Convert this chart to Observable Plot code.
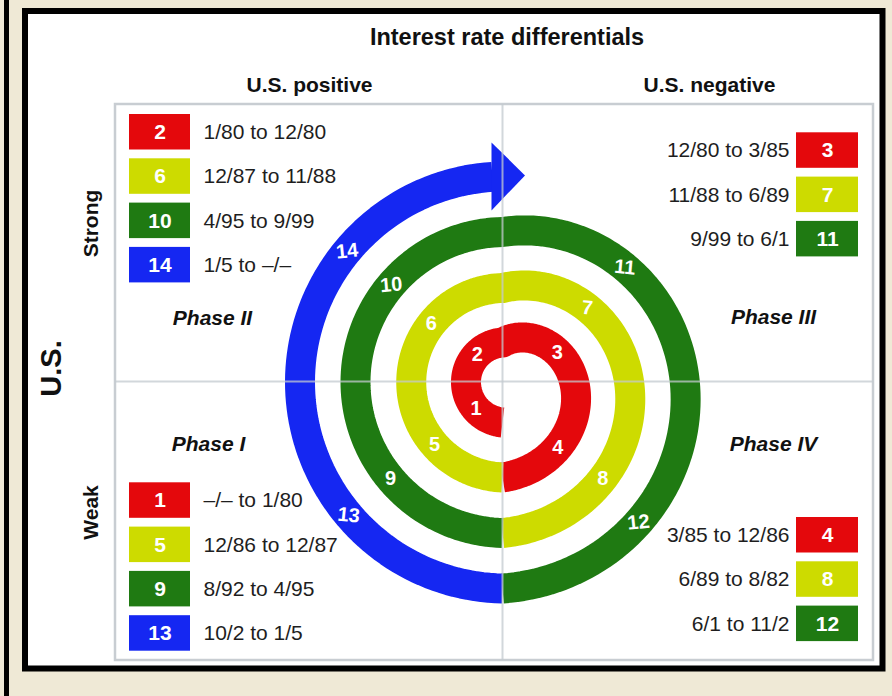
<!DOCTYPE html>
<html><head><meta charset="utf-8">
<script src="https://cdn.jsdelivr.net/npm/d3@7"></script>
<script src="https://cdn.jsdelivr.net/npm/@observablehq/plot@0.6"></script>
<style>
html,body{margin:0;padding:0;background:#efe9d6;overflow:hidden;}
#chart svg{display:block;}
</style></head><body><div id="chart"></div>
<script>
// ---------------- data ----------------
const title = "Interest rate differentials";
const columnLabels = ["U.S. positive", "U.S. negative"];
const rowLabels = ["Strong", "Weak"];
const rowTitle = "U.S.";
const phaseNames = ["Phase I", "Phase II", "Phase III", "Phase IV"];
const segments = [1, 2, 3, 4, 5, 6, 7, 8, 9, 10, 11, 12, 13, 14];
const periods = [
  "–/– to 1/80", "1/80 to 12/80", "12/80 to 3/85", "3/85 to 12/86",
  "12/86 to 12/87", "12/87 to 11/88", "11/88 to 6/89", "6/89 to 8/82",
  "8/92 to 4/95", "4/95 to 9/99", "9/99 to 6/1", "6/1 to 11/2",
  "10/2 to 1/5", "1/5 to –/–"
];
const cycleColors = ["#e4080c", "#cddb00", "#1f7a12", "#1527f2"];

// ---------------- layout ----------------
const W = 892, H = 696, CX = 502, CY = 381;
const bottomR = [41, 96, 151.5, 207];
const topR = [39, 93.5, 149.5, 205];
const bandWidth = 30;
const endAngle = 92.8;
const labelAngle = [226, 133, 28, -50, 223, 141, 41, -44, 221, 139, 43, -46, 221, 140];
const labelRotate = [0, 0, 0, 0, 0, 0, 5, 0, 0, -5, 5, -6, 6, -6];
const font = "Liberation Sans, Arial, Helvetica, sans-serif";

function spiralPoint(k, u) {
  const t = Math.floor(k / 4), q = k % 4;
  let r, phi;
  if (q < 2) {
    const v = (q + u) / 2;
    r = bottomR[t] + (topR[t] - bottomR[t]) * v - 3.5 * Math.sin(Math.PI * v);
    phi = 270 - 180 * v;
  } else {
    const v = (q - 2 + u) / 2;
    r = topR[t] + (bottomR[t + 1] - topR[t]) * v + 4 * Math.sin(Math.PI * v);
    phi = 90 - 180 * v;
  }
  const a = phi * Math.PI / 180;
  return {x: CX + r * Math.cos(a), y: CY - r * Math.sin(a)};
}
function uAtAngle(k, phi) {
  const q = k % 4;
  if (q < 2) return 2 * ((270 - phi) / 180) - q;
  return 2 * ((90 - phi) / 180) - (q - 2);
}

const uEnd = uAtAngle(13, endAngle);
const spiral = [];
for (let c = 0; c < 4; c++) {
  for (let k = 4 * c; k <= Math.min(4 * c + 3, segments.length - 1); k++) {
    const uMax = k === segments.length - 1 ? uEnd : 1;
    const N = 48;
    for (let i = (k === 4 * c ? 0 : 1); i <= N; i++) {
      const p = spiralPoint(k, uMax * i / N);
      spiral.push({...p, cycle: c, color: cycleColors[c]});
    }
  }
}
const E = spiralPoint(segments.length - 1, uEnd);
const arrow = [
  {x: E.x - 0.5, y1: E.y - 34, y2: E.y + 34},
  {x: E.x + 33, y1: E.y - 1, y2: E.y - 1}
];

const spiralLabels = segments.map((s, k) => {
  const p = spiralPoint(k, uAtAngle(k, labelAngle[k]));
  return {text: String(s), x: p.x, y: p.y, rot: labelRotate[k]};
});

const legendLayout = [
  {top: 482.3, left: true},   // Phase I
  {top: 114, left: true},     // Phase II
  {top: 132.3, left: false},  // Phase III
  {top: 517, left: false}     // Phase IV
];
const rowStep = 44.3, boxH = 35.5;
const legendRows = segments.map((s, k) => {
  const q = k % 4, i = Math.floor(k / 4), L = legendLayout[q];
  const y1 = L.top + i * rowStep;
  return {
    n: String(s), period: periods[k], color: cycleColors[i], left: L.left,
    x1: L.left ? 129 : 796, x2: L.left ? 190 : 858,
    y1, y2: y1 + boxH, cy: y1 + boxH / 2,
    bx: L.left ? 159.5 : 827, tx: L.left ? 203 : 789
  };
});
const leftRows = legendRows.filter(d => d.left);
const rightRows = legendRows.filter(d => !d.left);

const phasePos = [
  {name: phaseNames[0], x: 208, y: 444},
  {name: phaseNames[1], x: 212, y: 318},
  {name: phaseNames[2], x: 773, y: 317},
  {name: phaseNames[3], x: 773, y: 444}
];

const chart = Plot.plot({
  width: W, height: H, margin: 0,
  x: {domain: [0, W], range: [0, W], axis: null},
  y: {domain: [0, H], range: [0, H], axis: null},
  color: {type: "identity"},
  style: {fontFamily: font, background: "#efe9d6", overflow: "visible"},
  marks: [
    Plot.rect([0], {x1: 4, x2: 9, y1: 0, y2: H, fill: "#000"}),
    Plot.rect([0], {x1: 25, x2: 882.5, y1: 11, y2: 668.5, fill: "#fff"}),
    Plot.rect([0], {x1: 115, x2: 873, y1: 104, y2: 660, fill: "none", stroke: "#c8cdd2", strokeWidth: 2.5}),
    Plot.line(spiral, {x: "x", y: "y", z: "cycle", stroke: "color", strokeWidth: bandWidth,
      strokeLinecap: "butt", strokeLinejoin: "round", curve: "linear"}),
    Plot.areaY(arrow, {x: "x", y1: "y1", y2: "y2", fill: cycleColors[3]}),
    Plot.ruleX([CX], {y1: 104, y2: 660, stroke: "#c3c9cf", strokeWidth: 2, strokeOpacity: 0.75}),
    Plot.ruleY([CY], {x1: 115, x2: 873, stroke: "#c3c9cf", strokeWidth: 2, strokeOpacity: 0.75}),
    Plot.text(spiralLabels, {x: "x", y: "y", text: "text", rotate: "rot", fill: "#fff",
      fontSize: 20, fontWeight: "bold", textAnchor: "middle", lineAnchor: "middle"}),
    Plot.rect(legendRows, {x1: "x1", x2: "x2", y1: "y1", y2: "y2", fill: "color"}),
    Plot.text(legendRows, {x: "bx", y: "cy", text: "n", fill: "#fff", fontSize: 21, fontWeight: "bold",
      textAnchor: "middle", lineAnchor: "middle"}),
    Plot.text(leftRows, {x: "tx", y: "cy", text: "period", fill: "#1e1e1e", fontSize: 21,
      textAnchor: "start", lineAnchor: "middle"}),
    Plot.text(rightRows, {x: "tx", y: "cy", text: "period", fill: "#1e1e1e", fontSize: 21,
      textAnchor: "end", lineAnchor: "middle"}),
    Plot.text(phasePos, {x: "x", y: "y", text: "name", fill: "#111", fontSize: 21,
      fontWeight: "bold", fontStyle: "italic", textAnchor: "middle", lineAnchor: "middle"}),
    Plot.text([title], {x: 506.5, y: 37, text: d => d, fill: "#111", fontSize: 23.5, fontWeight: "bold",
      textAnchor: "middle", lineAnchor: "middle"}),
    Plot.text(columnLabels, {x: [309, 709], y: 84.5, text: d => d, fill: "#111", fontSize: 21,
      fontWeight: "bold", textAnchor: "middle", lineAnchor: "middle"}),
    Plot.text(rowLabels, {x: 91, y: [223, 512], text: d => d, rotate: -90, fill: "#111", fontSize: 21,
      fontWeight: "bold", textAnchor: "middle", lineAnchor: "middle"}),
    Plot.text([rowTitle], {x: 51.5, y: 368, text: d => d, rotate: -90, fill: "#111", fontSize: 29,
      fontWeight: "bold", textAnchor: "middle", lineAnchor: "middle"}),
    Plot.rect([0], {x1: 25, x2: 882.5, y1: 11, y2: 668.5, fill: "none", stroke: "#000", strokeWidth: 6})
  ]
});
document.getElementById("chart").appendChild(chart);
</script></body></html>
